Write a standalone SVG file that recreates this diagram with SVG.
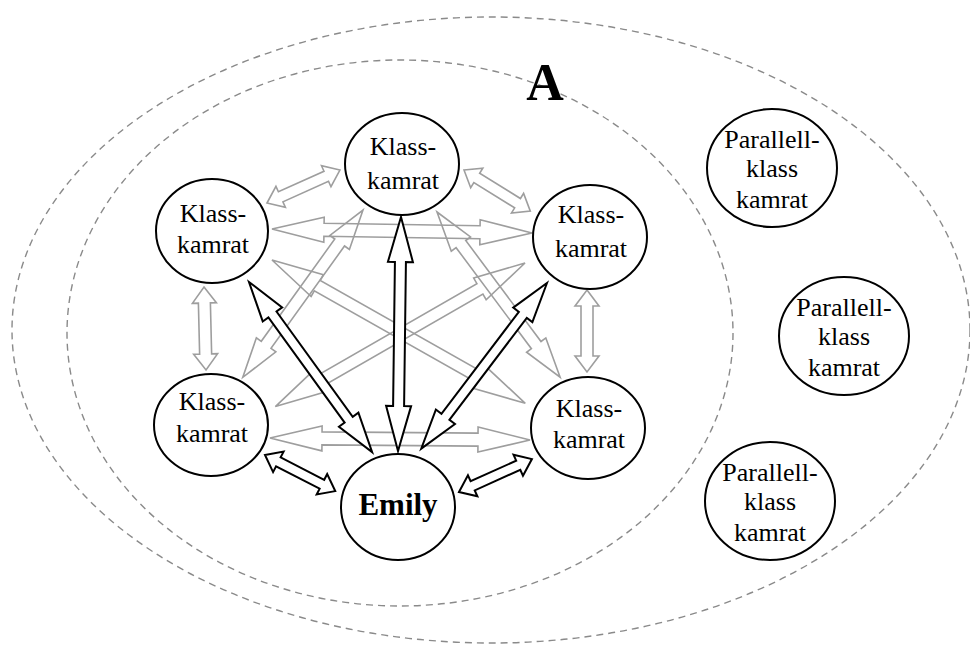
<svg xmlns="http://www.w3.org/2000/svg" width="970" height="649" viewBox="0 0 970 649">
  <style>
    .zone { fill: none; stroke: #8a8a8a; stroke-width: 1.4; stroke-dasharray: 7 5; }
    .node { fill: #ffffff; stroke: #000000; stroke-width: 2; }
    .lbl { font-family: "Liberation Serif", "Times New Roman", serif; font-size: 26px; fill: #000000; text-anchor: middle; }
    .me { font-family: "Liberation Serif", "Times New Roman", serif; font-size: 31px; font-weight: bold; fill: #000000; text-anchor: middle; }
    .title { font-family: "Liberation Serif", "Times New Roman", serif; font-size: 52px; font-weight: bold; fill: #000000; text-anchor: middle; }
    .weak { fill: none; stroke: #9e9e9e; stroke-width: 1.6; stroke-linejoin: miter; }
    .strong { fill: #ffffff; stroke: #000000; stroke-width: 2; stroke-linejoin: miter; }
  </style>

  <!-- dashed circles of belonging -->
  <g id="zones">
    <ellipse class="zone" cx="491" cy="330" rx="479" ry="313"/>
    <ellipse class="zone" cx="400" cy="333" rx="333" ry="273"/>
  </g>

  <g id="label-A">
    <text class="title" x="545" y="100">A</text>
  </g>

  <!-- double block arrows between classmates and Emily -->
  <g id="connectors">
    <!-- grey: classmate to classmate -->
    <polygon class="weak" transform="translate(267,203) rotate(-24.3)" points="0,0 15,-11.5 15,-5.5 65,-5.5 65,-11.5 80,0 65,11.5 65,5.5 15,5.5 15,11.5"/>
    <polygon class="weak" transform="translate(464,170) rotate(31.8)" points="0,0 15,-11.5 15,-5.5 63,-5.5 63,-11.5 78,0 63,11.5 63,5.5 15,5.5 15,11.5"/>
    <polygon class="weak" transform="translate(272,229) rotate(0.88)" points="0,0 52,-12.5 52,-6.5 208,-6.5 208,-12.5 260,0 208,12.5 208,6.5 52,6.5 52,12.5"/>
    <polygon class="weak" transform="translate(270,438) rotate(0.44)" points="0,0 52,-12.5 52,-6.5 208,-6.5 208,-12.5 260,0 208,12.5 208,6.5 52,6.5 52,12.5"/>
    <polygon class="weak" transform="translate(204,287) rotate(88.6)" points="0,0 16,-12 16,-6 67,-6 67,-12 83,0 67,12 67,6 16,6 16,12"/>
    <polygon class="weak" transform="translate(587,290) rotate(90)" points="0,0 16,-12 16,-6 66,-6 66,-12 82,0 66,12 66,6 16,6 16,12"/>
    <polygon class="weak" transform="translate(272,260) rotate(29.5)" points="0,0 52,-12.5 52,-6 239,-6 239,-12.5 291,0 239,12.5 239,6 52,6 52,12.5"/>
    <polygon class="weak" transform="translate(525,263) rotate(150.1)" points="0,0 52,-12.5 52,-6 236,-6 236,-12.5 288,0 236,12.5 236,6 52,6 52,12.5"/>
    <polygon class="weak" transform="translate(363,210) rotate(125.7)" points="0,0 40,-12 40,-6 166,-6 166,-12 206,0 166,12 166,6 40,6 40,12"/>
    <polygon class="weak" transform="translate(437,212) rotate(53.3)" points="0,0 40,-12 40,-6 166,-6 166,-12 206,0 166,12 166,6 40,6 40,12"/>

    <!-- black: classmates to Emily -->
    <polygon class="strong" transform="translate(401,217) rotate(90.73)" points="0,0 45,-12.5 45,-5.5 189,-5.5 189,-12.5 234,0 189,12.5 189,5.5 45,5.5 45,12.5"/>
    <polygon class="strong" transform="translate(249,282) rotate(54.1)" points="0,0 40,-12 40,-5 170,-5 170,-12 210,0 170,12 170,5 40,5 40,12"/>
    <polygon class="strong" transform="translate(547,283) rotate(127.2)" points="0,0 40,-12 40,-5 168,-5 168,-12 208,0 168,12 168,5 40,5 40,12"/>
    <polygon class="strong" transform="translate(265,455) rotate(27.2)" points="0,0 15,-11.5 15,-5 64,-5 64,-11.5 79,0 64,11.5 64,5 15,5 15,11.5"/>
    <polygon class="strong" transform="translate(459,492) rotate(-24.3)" points="0,0 15,-11.5 15,-5 65,-5 65,-11.5 80,0 65,11.5 65,5 15,5 15,11.5"/>
  </g>

  <!-- classmates -->
  <g id="klass-top">
    <ellipse class="node" cx="402" cy="164" rx="57" ry="51"/>
    <text class="lbl" x="403" y="155">Klass-</text>
    <text class="lbl" x="403" y="189">kamrat</text>
  </g>
  <g id="klass-upper-left">
    <ellipse class="node" cx="212" cy="231" rx="56" ry="52"/>
    <text class="lbl" x="213" y="222">Klass-</text>
    <text class="lbl" x="213" y="253">kamrat</text>
  </g>
  <g id="klass-upper-right">
    <ellipse class="node" cx="590" cy="237" rx="57" ry="52"/>
    <text class="lbl" x="591" y="223">Klass-</text>
    <text class="lbl" x="591" y="257">kamrat</text>
  </g>
  <g id="klass-lower-left">
    <ellipse class="node" cx="211" cy="425" rx="57" ry="51"/>
    <text class="lbl" x="212" y="410">Klass-</text>
    <text class="lbl" x="212" y="442">kamrat</text>
  </g>
  <g id="klass-lower-right">
    <ellipse class="node" cx="588" cy="428" rx="57" ry="51"/>
    <text class="lbl" x="589" y="417">Klass-</text>
    <text class="lbl" x="589" y="448">kamrat</text>
  </g>

  <g id="emily">
    <ellipse class="node" cx="398" cy="507" rx="57" ry="53"/>
    <text class="me" x="398" y="515">Emily</text>
  </g>

  <!-- parallel-class mates -->
  <g id="parallell-1">
    <ellipse class="node" cx="772" cy="168" rx="65" ry="59"/>
    <text class="lbl" x="772" y="148">Parallell-</text>
    <text class="lbl" x="772" y="177">klass</text>
    <text class="lbl" x="772" y="208">kamrat</text>
  </g>
  <g id="parallell-2">
    <ellipse class="node" cx="844" cy="336" rx="65" ry="59"/>
    <text class="lbl" x="844" y="316">Parallell-</text>
    <text class="lbl" x="844" y="345">klass</text>
    <text class="lbl" x="844" y="376">kamrat</text>
  </g>
  <g id="parallell-3">
    <ellipse class="node" cx="770" cy="501" rx="65" ry="59"/>
    <text class="lbl" x="770" y="481">Parallell-</text>
    <text class="lbl" x="770" y="510">klass</text>
    <text class="lbl" x="770" y="541">kamrat</text>
  </g>
</svg>
